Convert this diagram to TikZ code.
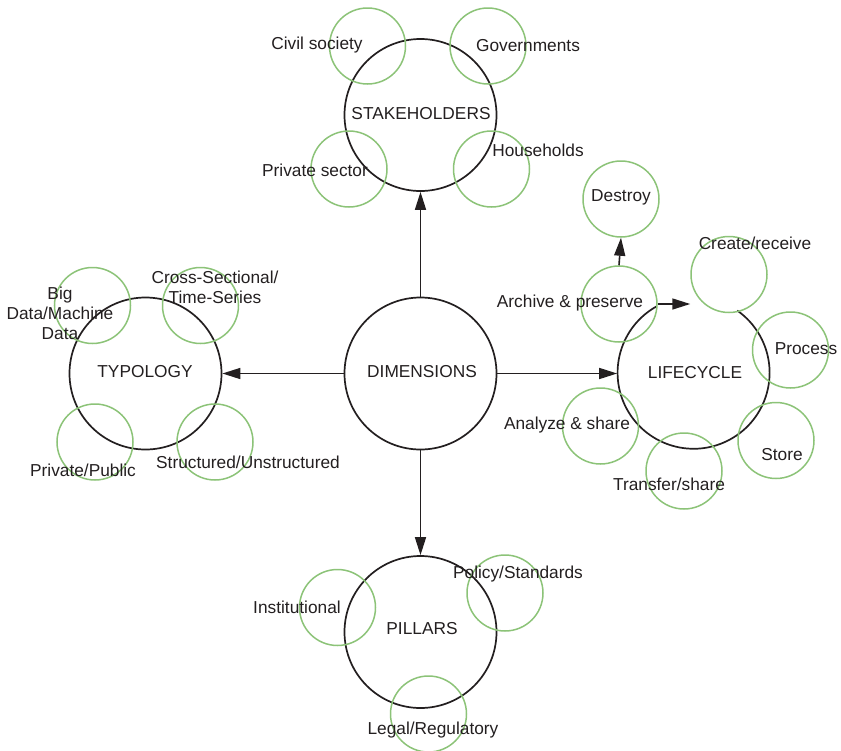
\documentclass[tikz,border=0pt]{standalone}
\usepackage{fontspec}
\setmainfont{Liberation Sans}
\usepackage{xcolor}
\usetikzlibrary{arrows.meta}

\definecolor{leafgreen}{RGB}{140,195,120}
\definecolor{inkgray}{RGB}{35,31,32}

\begin{document}
\begin{tikzpicture}[
    x=1pt, y=-1pt,
    every node/.style={font=\fontsize{17.3}{20}\selectfont, text=inkgray},
    hub/.style={circle, draw=inkgray, line width=1.7pt, inner sep=0pt,
                minimum size=152pt},
    leaf/.style={circle, draw=leafgreen, line width=1.5pt, inner sep=0pt,
                 minimum size=76pt},
    tag/.style={inner sep=0pt, align=center},
    arrow/.style={-{Triangle[length=18pt,width=11pt]}, draw=inkgray, line width=1.6pt}
  ]
    \useasboundingbox (0,0) rectangle (841,750);

    % main circles
    \node[hub] (dims)  at (420.5,373.5) {};
    \node[hub] (stake) at (420.5,115)   {};
    \node[hub] (typo)  at (145.5,373.5) {};
    \node[hub, draw=none] (life) at (694,373.5) {};
    \node[hub] (pill)  at (420.5,632)   {};
    \draw[inkgray, line width=1.7pt] (life.119) arc[start angle=119, end angle=415, radius=76pt];

    % stakeholders
    \node[leaf] (civil) at (367.5,46) {};
    \node[leaf] (gov)   at (488,46)   {};
    \node[leaf] (priv)  at (349,169)  {};
    \node[leaf] (house) at (491.5,169) {};

    % typology
    \node[leaf] (big)    at (92.5,305.5) {};
    \node[leaf] (cross)  at (200.5,305.5) {};
    \node[leaf] (pubpri) at (95,442) {};
    \node[leaf] (struct) at (215,442) {};

    % lifecycle
    \node[leaf] (destroy) at (621,199)   {};
    \node[leaf] (archive) at (619,304)   {};
    \node[leaf] (create)  at (729,274.5) {};
    \node[leaf] (process) at (790.5,350) {};
    \node[leaf] (store)   at (776,440.5) {};
    \node[leaf] (transfer) at (684,471)  {};
    \node[leaf] (analyze) at (600.5,426) {};

    % pillars
    \node[leaf] (inst)   at (337.5,607.5) {};
    \node[leaf] (policy) at (505,593) {};
    \node[leaf] (legal)  at (428.5,714) {};

    % labels
    \node[tag] (dimsT)  at (422,372) {DIMENSIONS};
    \node[tag] (stakeT) at (421,114) {STAKEHOLDERS};
    \node[tag] (typoT)  at (145,372) {TYPOLOGY};
    \node[tag] (lifeT)  at (695,373) {LIFECYCLE};
    \node[tag] (pillT)  at (422,629) {PILLARS};

    \node[tag] (civilT) at (317,45)  {Civil society};
    \node[tag] (govT)   at (528,46)  {Governments};
    \node[tag] (privT)  at (315,170) {Private sector};
    \node[tag] (houseT) at (538,150) {Households};

    \node[tag] (bigT)    at (60,313)  {Big\\Data/Machine\\Data};
    \node[tag] (crossT)  at (215,287) {Cross-Sectional/\\Time-Series};
    \node[tag] (pubpriT) at (83,470)  {Private/Public};
    \node[tag] (structT) at (248,462) {Structured/Unstructured};

    \node[tag] (destroyT)  at (621,197) {Destroy};
    \node[tag] (archiveT)  at (570,303) {Archive \& preserve};
    \node[tag] (createT)   at (755,243) {Create/receive};
    \node[tag] (processT)  at (806,349) {Process};
    \node[tag] (storeT)    at (782,455) {Store};
    \node[tag] (transferT) at (669,484) {Transfer/share};
    \node[tag] (analyzeT)  at (567,425) {Analyze \& share};

    \node[tag] (instT)   at (297,607) {Institutional};
    \node[tag] (policyT) at (518,574) {Policy/Standards};
    \node[tag] (legalT)  at (433,730) {Legal/Regulatory};

    % connectors
    \draw[arrow] (dims.north) -- (stake.south);
    \draw[arrow] (dims.west)  -- (typo.east);
    \draw[arrow] (dims.east)  -- (life.west);
    \draw[arrow] (dims.south) -- (pill.north);
    \draw[arrow] (archive.north) -- (destroy.south);
    \draw[arrow] (archive.east) -- (archive.east -| create.west);
  \end{tikzpicture}
\end{document}
